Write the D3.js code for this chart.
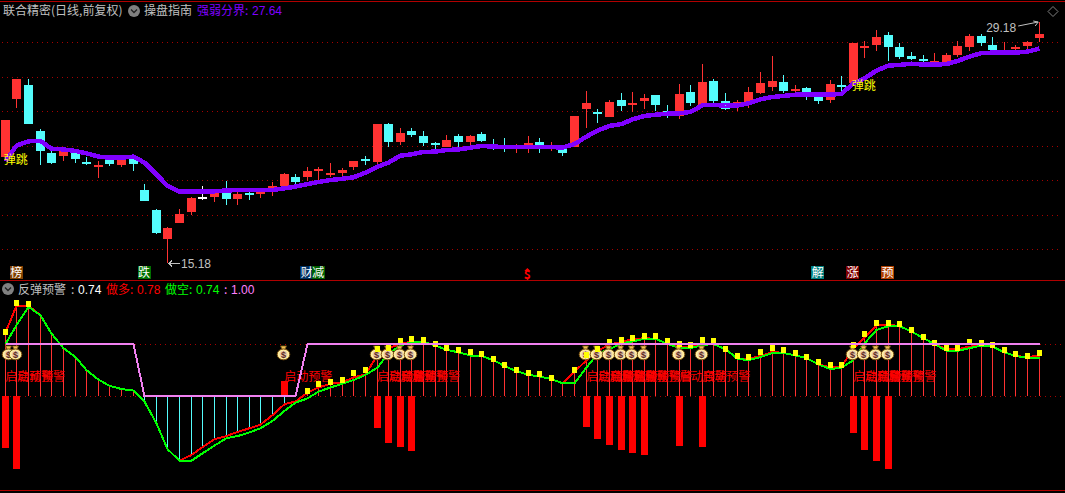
<!DOCTYPE html>
<html><head><meta charset="utf-8">
<script src="https://cdn.jsdelivr.net/npm/d3@7"></script>
<style>
html,body{margin:0;padding:0;background:#000;overflow:hidden}
svg{display:block}
text{font-family:"Noto Sans CJK SC","Liberation Sans",sans-serif;font-size:12px}
.num{font-family:"Liberation Sans",sans-serif}
</style></head><body>
<div id="chart"></div>
<script>
const opens=[21.35,24.71,25.53,22.86,21.58,21.41,21.58,21.06,20.77,21.23,
20.88,21.23,19.43,18.27,16.59,17.52,18.16,19.00,19.03,19.55,
18.91,19.26,19.20,19.55,19.67,20.19,20.19,20.54,20.36,20.42,
20.77,21.23,21.06,23.26,22.22,22.86,22.57,22.16,21.93,22.57,
22.22,22.68,21.99,21.99,21.93,21.93,22.22,21.93,21.81,21.93,
24.13,23.96,23.67,24.66,24.42,24.60,24.95,24.02,23.73,25.12,
24.37,25.76,24.60,24.48,24.48,25.06,25.41,25.70,25.18,25.35,
24.83,24.66,25.53,25.62,27.67,27.85,28.43,27.73,27.21,27.03,
26.80,26.80,27.27,27.73,28.37,27.85,27.44,27.61,27.79,28.25];
const closes=[23.49,25.87,23.26,21.70,21.00,21.70,21.23,20.94,20.88,20.94,
21.23,20.94,18.80,16.94,17.23,18.04,18.97,19.00,19.26,18.91,
19.20,19.20,19.38,19.67,20.36,19.90,20.54,20.65,20.42,20.59,
21.12,21.12,23.26,22.22,22.74,22.62,22.16,22.10,22.33,22.22,
22.57,22.28,21.93,21.93,21.99,22.16,21.93,21.99,21.58,23.73,
24.48,23.90,24.54,24.31,24.48,24.77,24.37,23.96,25.00,24.48,
25.70,24.60,24.13,24.54,25.12,25.64,25.76,25.18,25.29,25.06,
24.60,25.58,25.41,27.96,27.79,28.31,27.73,27.15,27.03,26.92,
26.92,27.27,27.79,28.37,27.96,27.56,27.50,27.73,28.02,28.48];
const highs=[23.49,25.87,25.87,22.97,21.70,21.81,21.81,21.35,21.12,21.41,
21.41,21.41,19.78,18.33,17.29,18.33,19.03,19.67,19.43,19.96,
19.32,19.43,19.55,19.90,20.42,20.36,20.77,20.77,21.00,20.71,
21.12,21.41,23.26,23.32,23.03,23.03,22.86,22.22,22.62,22.68,
22.62,22.80,22.39,22.45,22.10,22.57,22.45,22.22,21.95,23.73,
25.18,24.13,24.66,25.06,25.12,25.00,24.95,24.37,25.58,25.53,
26.74,25.87,25.06,24.66,25.41,26.28,27.21,26.11,25.53,25.41,
24.95,25.82,26.05,27.96,28.08,28.72,28.60,27.96,27.44,27.27,
27.38,27.38,28.08,28.48,28.48,28.31,28.02,27.85,28.08,29.18];
const lows=[21.35,24.19,23.26,20.88,20.94,21.12,21.00,20.88,20.13,20.83,
20.77,20.54,18.80,16.88,15.18,17.52,17.98,18.86,18.74,18.56,
18.56,18.86,18.97,19.09,19.67,19.78,19.96,20.01,20.19,20.19,
20.59,20.88,20.94,21.93,22.04,22.51,21.99,21.81,21.93,21.93,
21.99,22.22,21.75,21.64,21.58,21.58,21.58,21.70,21.41,21.93,
23.03,23.32,23.67,24.02,23.96,24.13,24.02,23.61,23.55,24.31,
24.31,24.48,24.07,24.02,24.19,25.00,25.18,25.06,25.06,24.66,
24.42,24.48,24.95,25.53,27.09,27.50,26.92,27.03,26.98,26.80,
26.74,26.74,27.15,27.50,27.79,27.56,27.44,27.44,27.56,28.02];
const strength=[21.10,22.01,22.26,22.28,21.83,21.79,21.70,21.56,21.37,21.31,
21.31,21.37,21.02,20.34,19.67,19.34,19.34,19.34,19.36,19.41,
19.43,19.43,19.43,19.43,19.53,19.63,19.78,19.90,20.01,20.09,
20.17,20.44,20.79,21.02,21.43,21.50,21.64,21.66,21.75,21.79,
21.89,21.99,21.95,21.93,21.93,21.93,21.93,21.93,21.89,22.10,
22.53,22.88,23.15,23.26,23.53,23.73,23.80,23.86,23.88,23.96,
24.35,24.37,24.33,24.33,24.46,24.69,24.83,24.89,24.96,24.96,
24.96,24.96,25.02,25.62,25.91,26.36,26.65,26.69,26.76,26.71,
26.71,26.74,26.92,27.17,27.38,27.40,27.40,27.40,27.46,27.64];
const priceGrid=[16,18,20,22,24,26,28];
const jumpIdx=[0,73], jumpPrice=[21.21,25.47];
const lowIdx=14, lowLabel="15.18", highIdx=89, highLabel="29.18";

const longLine=[1.22,1.73,1.73,1.55,1.20,0.92,0.75,0.50,0.32,0.20,
0.14,0.11,-0.10,-0.52,-1.01,-1.23,-1.12,-0.97,-0.82,-0.76,
-0.68,-0.61,-0.54,-0.36,-0.15,-0.10,0.07,0.17,0.24,0.27,
0.36,0.42,0.79,0.92,1.01,1.04,1.04,0.97,0.89,0.84,
0.78,0.77,0.69,0.58,0.48,0.41,0.38,0.33,0.25,0.47,
0.69,0.87,0.99,1.04,1.09,1.11,1.10,1.00,0.94,0.94,
1.01,1.00,0.90,0.72,0.72,0.77,0.85,0.83,0.78,0.73,
0.61,0.55,0.57,0.92,1.13,1.36,1.37,1.34,1.24,1.11,
1.00,0.90,0.90,0.95,0.97,0.95,0.84,0.77,0.75,0.78];
const shortLine=[1.00,1.36,1.71,1.55,1.20,0.92,0.75,0.50,0.32,0.20,
0.14,0.11,-0.10,-0.52,-1.01,-1.23,-1.23,-1.09,-0.94,-0.80,
-0.76,-0.69,-0.61,-0.47,-0.28,-0.12,-0.04,0.09,0.17,0.24,
0.31,0.41,0.55,0.82,0.97,1.04,1.04,0.97,0.89,0.84,
0.78,0.77,0.69,0.58,0.48,0.41,0.38,0.33,0.25,0.25,
0.55,0.81,0.90,1.01,1.05,1.10,1.10,1.00,0.92,0.92,
0.98,1.00,0.90,0.72,0.69,0.75,0.83,0.83,0.78,0.73,
0.61,0.52,0.55,0.69,1.01,1.27,1.34,1.34,1.24,1.11,
1.00,0.87,0.87,0.92,0.97,0.95,0.84,0.77,0.74,0.74];
const pinkLine=[1,1,1,1,1,1,1,1,1,1,1,1,0,0,0,0,0,0,0,0,0,0,0,0,0,0,
1,1,1,1,1,1,1,1,1,1,1,1,1,1,1,1,1,1,1,1,1,1,1,1,
1,1,1,1,1,1,1,1,1,1,1,1,1,1,1,1,1,1,1,1,
1,1,1,1,1,1,1,1,1,1,1,1,1,1,1,1,1,1,1,1];
const yellowMarks=[1.22,1.78,1.76,null,null,null,null,null,null,null,
null,null,null,null,null,null,null,null,null,null,
null,null,null,null,null,null,0.10,0.23,0.27,0.32,
0.44,0.50,0.90,0.93,1.06,1.10,1.08,1.00,0.92,0.89,
0.84,0.81,0.71,0.60,0.50,0.45,0.43,0.35,null,0.50,
0.79,0.90,1.04,1.08,1.11,1.16,1.15,1.06,1.00,0.98,
1.08,1.05,0.90,0.77,0.75,0.85,0.92,0.89,0.83,0.76,
0.66,0.60,0.60,0.98,1.19,1.40,1.41,1.38,1.26,1.13,
1.01,0.92,0.92,1.03,1.02,0.98,0.89,0.81,0.77,0.83];
const noStickIdx=[25];
const signalIdx=[0,1,24,32,33,34,35,50,51,52,53,54,55,58,60,73,74,75,76];
const signalBars=[-0.98,-1.39,0.29,-0.60,-0.89,-0.97,-1.04,-0.59,-0.82,-0.93,-1.03,-1.08,-1.12,-0.95,-0.97,-0.70,-1.03,-1.24,-1.39];
const bagLevel=0.83, warnLevel=0.39;
const warnText="启动预警";

const badgeIdx=[1,12,26,27,45,70,73,76];
const badgeText=["榜","跌","财","减","$","解","涨","预"];
const badgeFill=["#804000","#007000","#003060","#006000","none","#008080","#800000","#b04000"];

const W=1065,H=493,RED="#ff3232",CYAN="#54fcfc",GRID="#a80000",LINE="#b00000",GRAY="#c0c0c0";
const x=d3.scaleLinear().domain([0,89]).range([5.35,1039.2]);
const yP=d3.scaleLinear().domain([15.18,29.18]).range([263.33,22]);
const yI=d3.scaleLinear().domain([0,1]).range([396.33,344]);
const px=i=>Math.floor(x(i))+0.5;
const svg=d3.select("#chart").append("svg").attr("width",W).attr("height",H).style("background","#000");
const idx=d3.range(opens.length);

function hline(g,y,x0,x1,col,dash){
  g.append("line").attr("x1",x0).attr("x2",x1).attr("y1",y).attr("y2",y)
   .attr("stroke",col).attr("stroke-dasharray",dash||null).attr("shape-rendering","crispEdges");
}
const frame=svg.append("g");
[1.5,280.5,490.5].forEach(y=>hline(frame,y,0,W,LINE));
priceGrid.forEach(v=>hline(frame,Math.round(yP(v))+0.5,2,1062,GRID,"1,4"));
[1,0].forEach(v=>hline(frame,Math.round(yI(v))+0.5,5,1062,GRID,"1,4"));

// candles
const colour=i=>closes[i]>opens[i]?RED:closes[i]<opens[i]?CYAN:"#ffffff";
const cd=svg.append("g").attr("shape-rendering","crispEdges");
cd.selectAll("line").data(idx).join("line")
  .attr("x1",px).attr("x2",px).attr("y1",i=>yP(highs[i])).attr("y2",i=>yP(lows[i])).attr("stroke",colour);
cd.selectAll("rect").data(idx).join("rect")
  .attr("x",i=>px(i)-4.5).attr("width",9)
  .attr("y",i=>Math.round(yP(Math.max(opens[i],closes[i]))))
  .attr("height",i=>Math.max(1.5,Math.round(Math.abs(yP(opens[i])-yP(closes[i])))))
  .attr("fill",colour);

// strength line
const lineP=d3.line().x((v,i)=>px(i)).y(v=>yP(v));
svg.append("path").attr("d",lineP(strength)).attr("fill","none").attr("stroke","#8000ff")
   .attr("stroke-width",4.5).attr("shape-rendering","crispEdges");

// jump labels
svg.append("g").selectAll("text").data(jumpIdx).join("text")
   .attr("x",i=>x(i)-1.5).attr("y",(i,k)=>yP(jumpPrice[k])+4.5).attr("fill","#ffff00").text("弹跳");

// extreme annotations
const ann=svg.append("g");
const lx=x(lowIdx)+1, ly=yP(lows[lowIdx]);
ann.append("path").attr("d",`M${lx+11},${ly}H${lx}m3,-3l-3,3l3,3`).attr("fill","none").attr("stroke",GRAY).attr("shape-rendering","crispEdges");
ann.append("text").attr("class","num").attr("x",lx+12).attr("y",ly+4.5).attr("fill",GRAY).text(lowLabel);
const hx=x(highIdx)-1, hy=yP(highs[highIdx]);
ann.append("path").attr("d",`M${hx-20},${hy+4}L${hx},${hy}m-5,-1l5,1l-3,4`).attr("fill","none").attr("stroke",GRAY);
ann.append("text").attr("class","num").attr("x",hx-52).attr("y",hy+9.5).attr("fill",GRAY).text(highLabel);

// badges
const bad=svg.append("g").selectAll("g").data(badgeIdx).join("g")
   .attr("transform",i=>`translate(${x(i)-0.7},272.5)`);
bad.append("rect").attr("x",-6.5).attr("y",-6.5).attr("width",13).attr("height",13)
   .attr("fill",(d,k)=>badgeFill[k]).attr("shape-rendering","crispEdges");
bad.append("text").attr("text-anchor","middle").attr("y",(d,k)=>badgeFill[k]==="none"?6:4.5)
   .style("font-weight",(d,k)=>badgeFill[k]==="none"?"bold":null)
   .attr("fill",(d,k)=>badgeFill[k]==="none"?"#ff0000":"#ffffff").text((d,k)=>badgeText[k]);
bad.filter((d,k)=>badgeFill[k]==="none").append("path").attr("d","M0,-4.5L3,-1.5H-3Z").attr("fill","#ff0000");

// lower panel
const low=svg.append("g");
low.append("g").attr("shape-rendering","crispEdges").selectAll("line")
   .data(idx.filter(i=>!noStickIdx.includes(i))).join("line")
   .attr("x1",px).attr("x2",px).attr("y1",yI(0)).attr("y2",i=>yI(longLine[i]))
   .attr("stroke",i=>longLine[i]>=0?RED:CYAN);
low.append("g").attr("shape-rendering","crispEdges").selectAll("rect").data(signalIdx).join("rect")
   .attr("x",i=>px(i)-3.5).attr("width",7)
   .attr("y",(i,k)=>Math.min(yI(0),yI(signalBars[k])))
   .attr("height",(i,k)=>Math.abs(yI(0)-yI(signalBars[k])))
   .attr("fill","#ff0000");
const lineI=d3.line().x((v,i)=>px(i)).y(v=>yI(v));
low.append("path").attr("d",lineI(longLine)).attr("fill","none").attr("stroke","#ff0000").attr("stroke-width",2).attr("shape-rendering","crispEdges");
low.append("path").attr("d",lineI(shortLine)).attr("fill","none").attr("stroke","#00ff00").attr("stroke-width",2).attr("shape-rendering","crispEdges");

// warning text
low.append("g").selectAll("text").data(signalIdx).join("text")
   .attr("x",i=>x(i)).attr("y",yI(warnLevel)+5).attr("fill","#ff0000").text(warnText);

// money bags
const bags=low.append("g").selectAll("g").data(signalIdx).join("g")
   .attr("transform",i=>`translate(${Math.max(px(i)-1,8.5)},${yI(bagLevel)})`);
bags.append("path").attr("d","M-3,-7L3,-7L1.5,-3.5L-1.5,-3.5Z").attr("fill","#f0c050").attr("stroke","#6a4a10").attr("stroke-width",0.8);
bags.append("ellipse").attr("cy",1.5).attr("rx",6.3).attr("ry",5.4).attr("fill","#ffeea0").attr("stroke","#7a5010").attr("stroke-width",1);
bags.append("ellipse").attr("cy",1.5).attr("rx",3.8).attr("ry",3.6).attr("fill","#e8c8a8");
bags.append("text").attr("text-anchor","middle").attr("y",4.8).attr("class","num")
    .style("font-size","9px").style("font-weight","bold").attr("fill","#5a2a20").text("$");

// yellow marks
low.append("g").attr("shape-rendering","crispEdges").selectAll("rect")
   .data(idx.filter(i=>yellowMarks[i]!==null)).join("rect")
   .attr("x",i=>px(i)-2.5).attr("width",5).attr("height",6)
   .attr("y",i=>yI(yellowMarks[i])-3).attr("fill","#ffff00");
low.append("path").attr("d",lineI(pinkLine)).attr("fill","none").attr("stroke","#f080f0").attr("stroke-width",2).attr("shape-rendering","crispEdges");

// header texts
const pieces=[
 [3,10,"联合精密(日线,前复权)",GRAY],[144,10,"操盘指南",GRAY],[197,10,"强弱分界:",  "#8000ff"],[252,10,"27.64","#8000ff"],
 [18,289,"反弹预警",GRAY],[71,289,":",GRAY],[78,289,"0.74","#ffffff"],
 [106,289,"做多:","#ff0000"],[137,289,"0.78","#ff0000"],
 [165,289,"做空:","#00ff00"],[196,289,"0.74","#00ff00"],
 [224,289,":","#ff80ff"],[231,289,"1.00","#ff80ff"]];
svg.append("g").selectAll("text").data(pieces).join("text")
   .attr("x",d=>d[0]).attr("y",d=>d[1]+4.5).attr("fill",d=>d[3])
   .attr("class",d=>/^[0-9.]+$/.test(d[2])?"num":null).text(d=>d[2]);

// toggle icons
[[134,11],[8,289]].forEach(([cx,cy])=>{
  svg.append("circle").attr("cx",cx).attr("cy",cy).attr("r",6).attr("fill","#808080");
  svg.append("path").attr("d",`M${cx-3},${cy-1.5}l3,3l3,-3`).attr("fill","none").attr("stroke","#202020").attr("stroke-width",1.3);
});
// diamond
svg.append("path").attr("d","M1053,6.5l5,5l-5,5l-5,-5Z").attr("fill","none").attr("stroke","#808080");
</script></body></html>
